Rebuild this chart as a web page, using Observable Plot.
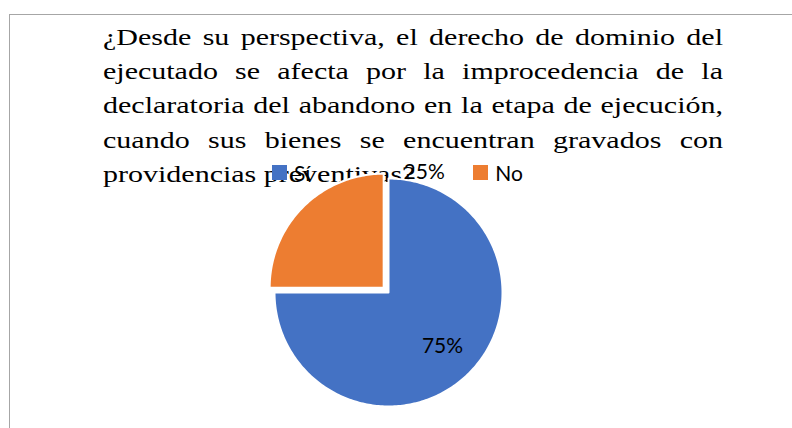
<!DOCTYPE html>
<html>
<head>
<meta charset="utf-8">
<script src="https://cdn.jsdelivr.net/npm/d3@7"></script>
<script src="https://cdn.jsdelivr.net/npm/@observablehq/plot@0.6"></script>
<style>
  html, body { margin: 0; padding: 0; background: #fff; }
  #wrap { position: relative; width: 792px; height: 428px; overflow: hidden; }
  #frame { position: absolute; left: 9px; top: 14px; right: -2px; bottom: -2px;
           border-top: 1px solid #a6a6a6; border-left: 1px solid #a6a6a6; }
  #chart { position: absolute; left: 0; top: 0; }
  #title { position: absolute; left: 103px; top: 20px; width: 496px;
           transform: scaleX(1.25); transform-origin: 0 0;
           font-family: "Liberation Serif", "Times New Roman", serif; font-size: 24px;
           line-height: 34.2px; color: #000; }
  #title .j { text-align: justify; text-align-last: justify; white-space: nowrap; }
  #legend { position: absolute; top: 160px; left: 272px; display: flex; align-items: center;
            font-family: Lato, "Open Sans", sans-serif; font-size: 21px; color: #000; }
  #legend .item { display: flex; align-items: center; }
  #legend .sw { width: 15px; height: 15px; margin-right: 7px; }
</style>
</head>
<body>
<div id="wrap">
  <div id="frame"></div>
  <div id="title"></div>
  <div id="chart"></div>
  <div id="legend"></div>
</div>
<script>
const categories = ["Sí", "No"];
const values = [75, 25];
const labels = ["75%", "25%"];
const colors = ["#4472C4", "#ED7D31"];
const titleLines = [
  "¿Desde su perspectiva, el derecho de dominio del",
  "ejecutado se afecta por la improcedencia de la",
  "declaratoria del abandono en la etapa de ejecución,",
  "cuando sus bienes se encuentran gravados con",
  "providencias preventivas?"
];

// layout config
const explode = [0, 0.06];
const labelRadius = [0.67, 1.1];
const labelAngleDeg = [null, 16.5];

const arcs = d3.pie().sort(null).value(d => d)(values);
const pts = [];
const labs = [];
arcs.forEach((a, i) => {
  const mid = (a.startAngle + a.endAngle) / 2;
  const dx = explode[i] * Math.sin(mid), dy = explode[i] * Math.cos(mid);
  const cat = categories[i];
  pts.push({cat, x: dx, y: dy});
  const n = Math.max(2, Math.ceil((a.endAngle - a.startAngle) / (Math.PI / 180)));
  for (let k = 0; k <= n; k++) {
    const t = a.startAngle + (a.endAngle - a.startAngle) * k / n;
    pts.push({cat, x: dx + Math.sin(t), y: dy + Math.cos(t)});
  }
  const la = labelAngleDeg[i] == null ? mid : labelAngleDeg[i] * Math.PI / 180;
  labs.push({label: labels[i], x: labelRadius[i] * Math.sin(la), y: labelRadius[i] * Math.cos(la)});
});

const plot = Plot.plot({
  width: 792, height: 428,
  marginLeft: 274, marginRight: 290, marginTop: 178, marginBottom: 22,
  x: {domain: [-1, 1], axis: null},
  y: {domain: [-1, 1], axis: null},
  color: {domain: categories, range: colors},
  style: {background: "transparent", overflow: "visible"},
  marks: [
    Plot.line(pts, {x: "x", y: "y", z: "cat", fill: "cat", stroke: "white", strokeWidth: 2, curve: "linear-closed"}),
    Plot.text(labs, {x: "x", y: "y", text: "label", fontSize: 21, fontFamily: "Lato, 'Open Sans', sans-serif", fill: "#000"})
  ]
});
document.getElementById("chart").appendChild(plot);

const title = document.getElementById("title");
titleLines.forEach((t, i) => {
  const d = document.createElement("div");
  if (i < titleLines.length - 1) d.className = "j";
  d.textContent = t;
  title.appendChild(d);
});

const legend = document.getElementById("legend");
const gaps = [0, 163];
categories.forEach((c, i) => {
  const it = document.createElement("div");
  it.className = "item";
  it.style.marginLeft = (i === 0 ? 0 : gaps[i]) + "px";
  const sw = document.createElement("div");
  sw.className = "sw";
  sw.style.background = colors[i];
  const tx = document.createElement("span");
  tx.textContent = c;
  it.appendChild(sw); it.appendChild(tx);
  legend.appendChild(it);
});
</script>
</body>
</html>
